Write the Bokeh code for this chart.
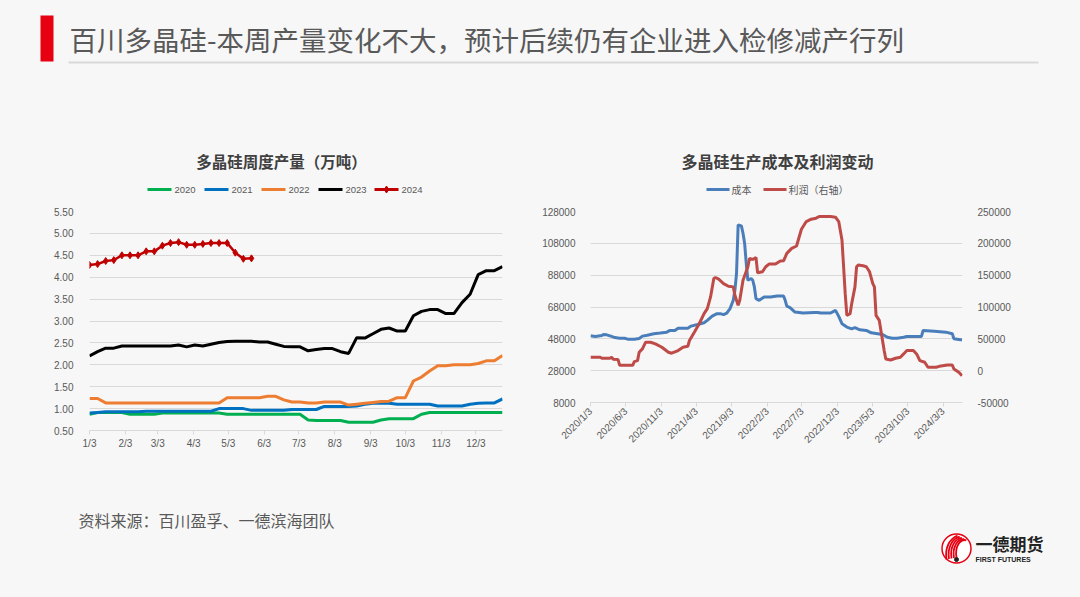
import pandas as pd
from bokeh.plotting import figure
from bokeh.layouts import column, row
from bokeh.models import Range1d, LinearAxis, FixedTicker, PrintfTickFormatter
from bokeh.embed import file_html
from bokeh.resources import INLINE
from bokeh.core.properties import value

# ---------------- data ----------------
page_title = "百川多晶硅-本周产量变化不大，预计后续仍有企业进入检修减产行列"
source_text = "资料来源：百川盈孚、一德滨海团队"

left_title = "多晶硅周度产量（万吨）"
left_series_names = ["2020", "2021", "2022", "2023", "2024"]
left_month_labels = ["1/3", "2/3", "3/3", "4/3", "5/3", "6/3", "7/3", "8/3", "9/3", "10/3", "11/3", "12/3"]
left_y_ticks = [0.5, 1.0, 1.5, 2.0, 2.5, 3.0, 3.5, 4.0, 4.5, 5.0, 5.5]

y2020 = [0.87, 0.91, 0.91, 0.91, 0.91, 0.87, 0.87, 0.87, 0.87, 0.90, 0.90, 0.90, 0.90,
         0.90, 0.90, 0.90, 0.90, 0.87, 0.87, 0.87, 0.87, 0.87, 0.87, 0.87, 0.87, 0.87,
         0.87, 0.74, 0.73, 0.73, 0.73, 0.73, 0.69, 0.69, 0.69, 0.69, 0.74, 0.77, 0.77,
         0.77, 0.77, 0.87, 0.91, 0.91, 0.91, 0.91, 0.91, 0.91, 0.91, 0.91, 0.91, 0.91]
y2021 = [0.90, 0.91, 0.93, 0.93, 0.93, 0.93, 0.93, 0.94, 0.94, 0.94, 0.94, 0.94, 0.94,
         0.94, 0.94, 0.94, 1.00, 1.00, 1.00, 1.00, 0.96, 0.96, 0.96, 0.96, 0.96, 0.98,
         0.98, 0.98, 0.98, 1.05, 1.05, 1.05, 1.05, 1.06, 1.10, 1.12, 1.12, 1.12, 1.10,
         1.10, 1.10, 1.10, 1.10, 1.06, 1.06, 1.06, 1.06, 1.10, 1.12, 1.13, 1.13, 1.22]
y2022 = [1.23, 1.23, 1.13, 1.13, 1.13, 1.13, 1.13, 1.13, 1.13, 1.13, 1.13, 1.13, 1.13,
         1.13, 1.13, 1.13, 1.13, 1.25, 1.25, 1.25, 1.25, 1.25, 1.28, 1.28, 1.20, 1.15,
         1.15, 1.13, 1.13, 1.15, 1.15, 1.15, 1.08, 1.10, 1.12, 1.14, 1.16, 1.17, 1.25,
         1.25, 1.63, 1.72, 1.86, 1.98, 1.98, 2.00, 2.00, 2.00, 2.03, 2.09, 2.09, 2.21]
y2023 = [2.20, 2.30, 2.38, 2.38, 2.43, 2.43, 2.43, 2.43, 2.43, 2.43, 2.43, 2.45, 2.41,
         2.45, 2.43, 2.47, 2.51, 2.53, 2.54, 2.54, 2.54, 2.52, 2.52, 2.47, 2.42, 2.41,
         2.41, 2.32, 2.35, 2.37, 2.37, 2.30, 2.26, 2.62, 2.61, 2.71, 2.81, 2.84, 2.77,
         2.77, 3.12, 3.22, 3.26, 3.26, 3.17, 3.17, 3.42, 3.61, 4.06, 4.15, 4.15, 4.24]
y2024 = [4.28, 4.30, 4.37, 4.39, 4.50, 4.50, 4.50, 4.59, 4.59, 4.72, 4.78, 4.80, 4.74,
         4.74, 4.76, 4.78, 4.78, 4.78, 4.56, 4.42, 4.43]

right_title = "多晶硅生产成本及利润变动"
right_series_names = ["成本", "利润（右轴）"]
right_start = "2020/1/3"
right_date_labels = ["2020/1/3", "2020/6/3", "2020/11/3", "2021/4/3", "2021/9/3", "2022/2/3",
                     "2022/7/3", "2022/12/3", "2023/5/3", "2023/10/3", "2024/3/3"]
cost_ticks = [8000, 28000, 48000, 68000, 88000, 108000, 128000]
profit_ticks = [-50000, 0, 50000, 100000, 150000, 200000, 250000]

# week number since 2020/1/3, and value
cost_week = [0, 3, 7, 8, 10, 13, 15, 18, 21, 23, 27, 30, 32, 35, 39, 43, 47, 49, 52, 54, 60,
             62, 66, 70, 72, 75, 78, 80, 82, 84, 86, 88, 89, 90, 91, 93, 94, 95, 96, 97, 99,
             100, 101, 102, 104, 107, 111, 115, 119, 120, 121, 123, 126, 131, 138, 140, 142,
             148, 151, 153, 155, 158, 161, 163, 166, 170, 173, 177, 180, 183, 186, 189, 193,
             195, 204, 205, 212, 219, 223, 224, 228, 229]
cost_val = [50000, 49500, 50100, 50700, 50500, 49500, 48800, 48400, 48400, 47800, 47800, 48200,
            49700, 50300, 51200, 51600, 52200, 53300, 53300, 54700, 54700, 56000, 57000, 58100,
            59600, 62300, 63800, 63800, 63200, 64200, 67000, 72200, 78500, 89000, 119600, 119000,
            114300, 108000, 95400, 84800, 85900, 84800, 80600, 73300, 72200, 74300, 74300, 74900,
            74900, 72200, 68600, 67600, 64800, 64200, 64600, 64600, 64200, 64200, 65900, 62100,
            57500, 55400, 54300, 55000, 53700, 53300, 51800, 51200, 50700, 49000, 48400, 48400,
            49000, 49500, 49500, 53300, 52800, 52200, 51200, 48000, 47400, 47400]

profit_week = [0, 6, 7, 12, 13, 14, 17, 18, 26, 27, 29, 30, 32, 34, 37, 40, 44, 48, 50, 54, 57,
               60, 61, 64, 67, 70, 72, 74, 76, 77, 79, 82, 85, 88, 89, 91, 92, 94, 97, 98, 100,
               102, 103, 106, 108, 110, 114, 117, 119, 121, 124, 127, 130, 133, 136, 139, 141,
               148, 151, 153, 155, 156, 157, 158, 160, 161, 163, 164, 165, 168, 170, 172, 174,
               175, 176, 178, 180, 181, 182, 185, 188, 191, 193, 195, 199, 201, 203, 206, 208,
               213, 215, 220, 223, 224, 227, 229]
profit_val = [21000, 21000, 19500, 19500, 21000, 17900, 17400, 8400, 8400, 14200, 15800, 29000,
              34200, 44700, 44700, 42100, 36800, 29000, 27400, 31600, 36800, 38400, 47400, 60500,
              73700, 89500, 97400, 115800, 144700, 146300, 143700, 136800, 132600, 131600, 118400,
              102600, 110500, 142100, 163200, 176300, 174700, 177900, 153700, 155300, 163200,
              167400, 167400, 172100, 172600, 184200, 192100, 195800, 222100, 234200, 237900,
              239500, 242100, 242100, 241100, 234200, 205300, 163200, 121000, 86800, 89500,
              105300, 131600, 163200, 165800, 164700, 163200, 155300, 136800, 131600, 86800,
              78900, 47400, 31600, 18400, 16800, 19500, 21100, 26300, 31600, 31600, 26300, 15800,
              13200, 5300, 5300, 6800, 9000, 9000, 2600, -2600, -7900]

# ---------------- style ----------------
BG = "#f7f7f7"
GRID = "#d9d9d9"
TXT = "#595959"
CJK = "Noto Sans CJK SC"
NUM = "Liberation Sans"
left_colors = ["#00B050", "#0070C0", "#ED7D31", "#000000", "#C00000"]
right_colors = ["#4A7EBB", "#BE4B48"]
W = 1080
HEAD_H = 205
ROW_H = 303
FOOT_Y = HEAD_H + ROW_H
FOOT_H = 597 - FOOT_Y


def canvas(h, y0):
    p = figure(width=W, height=h, x_range=Range1d(0, W), y_range=Range1d(y0 + h, y0),
               output_backend="svg", toolbar_location=None, min_border=0,
               x_axis_type=None, y_axis_type=None)
    p.grid.visible = False
    p.outline_line_color = None
    p.background_fill_color = BG
    p.border_fill_color = BG
    p.styles = {"background-color": BG}
    return p


def txt(p, x, y, s, size, color=TXT, font=CJK, align="left", style="normal"):
    p.text(x=[x], y=[y], text=[s], text_font=value(font), text_font_size=size,
           text_color=color, text_align=align, text_baseline="middle", text_font_style=style)


# ---------------- header ----------------
T = canvas(HEAD_H, 0)
T.quad(left=[40], right=[53], top=[15], bottom=[61], color="#E60012", line_color=None)
txt(T, 69, 38, page_title, "27.5px", color="#595959")
T.line([68, 1038], [62, 62], line_color="#d9d9d9", line_width=2)

txt(T, 281, 160, left_title, "15.5px", color="#404040", style="bold", align="center")
leg_x = [147, 204, 261, 318, 374]
for i, name in enumerate(left_series_names):
    x0 = leg_x[i]
    T.line([x0, x0 + 24], [189, 189], line_color=left_colors[i], line_width=3)
    if i == 4:
        T.scatter([x0 + 12], [189], marker="diamond", size=7, color=left_colors[i])
    txt(T, x0 + 27, 189, name, "9.5px", font=NUM)

txt(T, 777, 160, right_title, "16px", color="#404040", style="bold", align="center")
T.line([706, 729], [189, 189], line_color=right_colors[0], line_width=3)
txt(T, 731, 189, right_series_names[0], "10px")
T.line([763, 786], [189, 189], line_color=right_colors[1], line_width=3)
txt(T, 788, 189, right_series_names[1], "10px")

# ---------------- left chart ----------------
L = figure(width=530, height=ROW_H, x_range=Range1d(3, 360), y_range=Range1d(0.5, 5.5),
           output_backend="svg", toolbar_location=None,
           min_border_left=89, min_border_right=28, min_border_top=6, min_border_bottom=78)
L.background_fill_color = BG
L.border_fill_color = BG
L.outline_line_color = None
L.styles = {"background-color": BG}
left_tick_days = [pd.Timestamp(2023, int(s.split("/")[0]), 3).dayofyear for s in left_month_labels]
L.xaxis.ticker = FixedTicker(ticks=left_tick_days)
L.xaxis.major_label_overrides = {d: s for d, s in zip(left_tick_days, left_month_labels)}
L.yaxis.ticker = FixedTicker(ticks=left_y_ticks)
L.yaxis.formatter = PrintfTickFormatter(format="%.2f")
L.xgrid.visible = False
L.ygrid.grid_line_color = GRID
L.yaxis.axis_line_color = None
L.yaxis.major_tick_line_color = None
L.yaxis.minor_tick_line_color = None
L.yaxis.major_label_standoff = 10
L.xaxis.axis_line_color = GRID
L.xaxis.major_tick_line_color = GRID
L.xaxis.major_tick_in = 0
L.xaxis.major_tick_out = 4
L.xaxis.minor_tick_line_color = None
L.xaxis.major_label_standoff = 3
for ax in (L.xaxis, L.yaxis):
    ax.major_label_text_font = NUM
    ax.major_label_text_font_size = "10px"
    ax.major_label_text_color = TXT

for i, ys in enumerate([y2020, y2021, y2022, y2023, y2024]):
    xs = [3 + 7 * w for w in range(len(ys))]
    L.line(xs, ys, line_color=left_colors[i], line_width=3 if i < 4 else 2.5)
    if i == 4:
        L.scatter(xs, ys, marker="diamond", size=7, color=left_colors[i])

# ---------------- right chart ----------------
start = pd.Timestamp(right_start)
R = figure(width=550, height=275, x_range=Range1d(0, 1605), y_range=Range1d(8000, 128000),
           output_backend="svg", toolbar_location=None,
           min_border_left=60, min_border_right=118, min_border_top=6, min_border_bottom=78)
R.background_fill_color = BG
R.border_fill_color = BG
R.outline_line_color = None
R.styles = {"background-color": BG}
R.extra_y_ranges = {"profit": Range1d(-50000, 250000)}
R.add_layout(LinearAxis(y_range_name="profit"), "right")

right_tick_days = [(pd.Timestamp(s) - start).days for s in right_date_labels]
R.xaxis.ticker = FixedTicker(ticks=right_tick_days)
R.xaxis.major_label_overrides = {d: s for d, s in zip(right_tick_days, right_date_labels)}
R.xaxis.major_label_orientation = 0.785398
R.yaxis[0].ticker = FixedTicker(ticks=cost_ticks)
R.yaxis[1].ticker = FixedTicker(ticks=profit_ticks)
for ax in R.yaxis:
    ax.formatter = PrintfTickFormatter(format="%d")
    ax.axis_line_color = None
    ax.major_tick_line_color = None
    ax.minor_tick_line_color = None
    ax.major_label_standoff = 9
R.xgrid.visible = False
R.ygrid.grid_line_color = GRID
R.ygrid.ticker = FixedTicker(ticks=cost_ticks)
R.xaxis.axis_line_color = GRID
R.xaxis.major_tick_line_color = GRID
R.xaxis.major_tick_in = 0
R.xaxis.major_tick_out = 4
R.xaxis.minor_tick_line_color = None
R.xaxis.major_label_standoff = 3
for ax in list(R.xaxis) + list(R.yaxis):
    ax.major_label_text_font = NUM
    ax.major_label_text_font_size = "10px"
    ax.major_label_text_color = TXT

R.line([7 * w for w in cost_week], cost_val, line_color=right_colors[0], line_width=3)
R.line([7 * w for w in profit_week], profit_val, line_color=right_colors[1], line_width=3,
       y_range_name="profit")

# ---------------- footer ----------------
F = canvas(FOOT_H, FOOT_Y)
txt(F, 78, 519, source_text, "16px")
# logo
F.circle(x=[956], y=[548], radius=14.5, fill_color="white", line_color="#E60012", line_width=1.5)
for k in range(5):
    F.bezier(x0=[946 + 2.5 * k], y0=[559 - 0.5 * k], x1=[957 + 2.2 * k], y1=[535 + 1.2 * k],
             cx0=[944 + 2.5 * k], cy0=[546], cx1=[950 + 2.5 * k], cy1=[538],
             line_color="#E60012", line_width=1.8)
F.scatter([956], [559], size=4, color="#222222")
txt(F, 975, 543, "一德期货", "17px", color="#222222", style="bold")
txt(F, 975, 559, "FIRST FUTURES", "7px", color="#222222", font=NUM, style="bold")

mid = row(L, R, styles={"background-color": BG})
layout = column(T, mid, F, styles={"background-color": BG})
html = file_html(layout, INLINE)
html = html.replace("<body", '<body style="margin:0;padding:0;background:#f7f7f7"', 1)
open("out.html", "w").write(html)
